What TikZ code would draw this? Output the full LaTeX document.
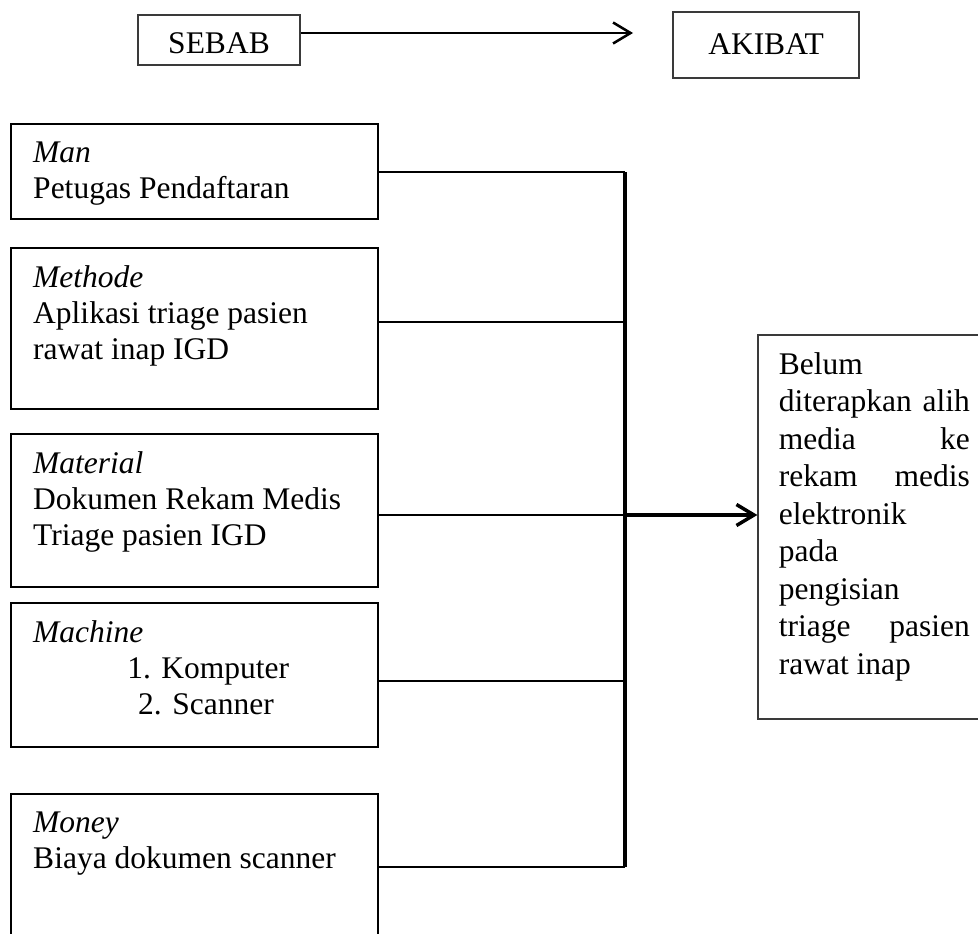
\documentclass[tikz,border=0pt]{standalone}
\usepackage{fontspec}
\setmainfont{Liberation Serif}
\usetikzlibrary{arrows.meta,positioning}
\definecolor{frame}{HTML}{3A3A3A}
\newcommand{\jline}[1]{\makebox[76.4pt][s]{#1}}

\begin{document}
\begin{tikzpicture}[x=0.4pt,y=-0.4pt,
  font=\fontsize{12.6pt}{14.4pt}\selectfont,
  headbox/.style={draw=frame,line width=0.5pt,inner sep=0pt},
  causebox/.style={draw,line width=1pt,minimum width=146.8pt,inner sep=0pt},
  causetext/.style={inner sep=0pt,align=left,execute at begin node=\strut},
  link/.style={line width=1pt},
  bus/.style={line width=1.4pt},
  barb/.style={-{Straight Barb[length=7pt,width=8.4pt]}}]
\useasboundingbox (0,0) rectangle (978,933);
\clip (0,0) rectangle (978,933);
\foreach \id/\yt/\hh/\yb/\txt in {
  man/124/95/172/{\textit{Man}\\Petugas Pendaftaran},
  methode/248/161/322/{\textit{Methode}\\Aplikasi triage pasien\\rawat inap IGD},
  material/434/153/515/{\textit{Material}\\Dokumen Rekam Medis\\Triage pasien IGD},
  machine/603/144/681/{\textit{Machine}\\\hspace*{37.6pt}1. Komputer\\\hspace*{42pt}2. Scanner},
  money/794/146/867/{\textit{Money}\\Biaya dokumen scanner}}
{
  \node[causebox,minimum height=\hh*0.4pt] (\id) at (194.5,\yt+\hh/2) {};
  \node[causetext,below right=7.3pt and 9.2pt of \id.north west] (\id-t) {\txt};
  \coordinate (\id-b) at (625,\yb);
  \draw[link] (\id.east |- \id-b) -- (\id-b);
}
\draw[bus] (man-b) -- (money-b);
\node[headbox,minimum width=64.8pt,minimum height=20pt,text height=10.8pt,text depth=0pt] (sebab) at (219,40) {SEBAB};
\node[headbox,minimum width=74.4pt,minimum height=26.4pt,text depth=0.8pt] (akibat) at (766,45) {AKIBAT};
\coordinate (tip) at (633,33);
\draw[link,barb] (sebab.east |- tip) -- (tip);
\node[headbox,minimum width=96.8pt,minimum height=153.6pt] (result) at (879,527) {};
\node[causetext,font=\fontsize{12.6pt}{15pt}\selectfont,below right=7pt and 8.4pt of result.north west] (result-t)
  {Belum\\\jline{diterapkan alih}\\\jline{media ke}\\\jline{rekam medis}\\elektronik\\pada\\pengisian\\\jline{triage pasien}\\rawat inap};
\draw[bus,barb] (material-b) -- (result.west |- material-b);
\end{tikzpicture}
\end{document}
